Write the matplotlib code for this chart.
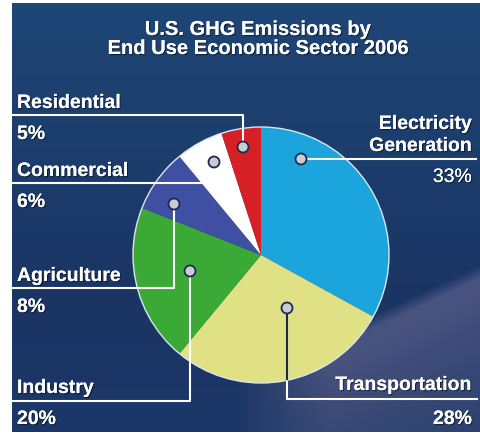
import numpy as np
import matplotlib
matplotlib.use("Agg")
import matplotlib.pyplot as plt
import matplotlib.patheffects as pe
from matplotlib.patches import Circle

# US GHG emissions by end use sector, 2006 (percent)
sectors = ["Electricity\nGeneration", "Transportation", "Industry", "Agriculture", "Commercial", "Residential"]
shares = [33, 28, 20, 8, 6, 5]
colors = ["#1ba5dc", "#e0e184", "#3ba935", "#3f50a3", "#ffffff", "#d71f26"]

W, H = 481, 435
fig = plt.figure(figsize=(W / 100, H / 100), dpi=100)
ax = fig.add_axes([0, 0, 1, 1])

# background: navy gradient with a soft light streak at lower right
yy, xx = np.mgrid[0:H, 0:W].astype(float)
top = np.array([30, 70, 118]) / 255
mid = np.array([26, 53, 100]) / 255
bot = np.array([28, 56, 104]) / 255
t = np.clip(yy / 300, 0, 1)[..., None]
bg = top * (1 - t) + mid * t
t2 = np.clip((yy - 300) / 135, 0, 1)[..., None]
bg = bg * (1 - t2) + bot * t2
# streak: sharp upper edge along a diagonal, fading downwards and to the left
p0 = np.array([370.0, 317.0])
d = np.array([481.0, 265.0]) - p0
d /= np.hypot(*d)
nrm = np.array([-d[1], d[0]])
if nrm[1] < 0:
    nrm = -nrm
dist = (xx - p0[0]) * nrm[0] + (yy - p0[1]) * nrm[1]
w = np.clip(dist / 12, 0, 1) * np.exp(-np.clip(dist - 30, 0, None) / 130)
w *= np.clip((xx - 240) / 90, 0, 1)
beam = np.array([72, 82, 126]) / 255
bg = bg * (1 - w[..., None]) + beam * w[..., None]
img = np.ones((H, W, 3))
img[4:433, 12:W] = bg[4:433, 12:W]
ax.imshow(img, extent=(0, W, H, 0), zorder=0, interpolation="bilinear")

cx, cy, r = 261, 256, 128
wedges, _ = ax.pie(shares, colors=colors, startangle=-90, counterclock=True,
                   center=(cx, cy), radius=r, wedgeprops=dict(linewidth=0))
for wd in wedges:
    wd.set_zorder(2)
outline = Circle((cx, cy), r, fill=False, ec="#dbe5ee", lw=1, zorder=3)
ax.add_patch(outline)

shadow = [pe.withSimplePatchShadow(offset=(0.8, -0.8), shadow_rgbFace="black", alpha=0.5), pe.Normal()]
lw = 1.5

def dot(x, y):
    ax.add_patch(Circle((x, y), 5.5, fc="#cbcbd4", ec="#1b2a52", lw=1.3, zorder=6))

def lbl(x, y, s, ha="left", weight="bold", size=14):
    ax.text(x, y, s, color="white", fontsize=size, fontweight=weight, ha=ha, va="baseline",
            family="Liberation Sans", path_effects=shadow, zorder=7)

pct = [f"{v}%" for v in shares]

# left side leaders
left = [  # label index, label baseline, line y, dot x, dot y
    (5, 109, 116, 243, 148),
    (4, 177, 184, 214, 163),
    (3, 282, 289, 174, 205),
    (2, 394, 402, 190, 272),
]
for i, yb, yl, dx, dy in left:
    ax.plot([12, dx, dx], [yl, yl, dy], color="white", lw=lw, zorder=5, solid_capstyle="butt")
    dot(dx, dy)
    lbl(17, yb, sectors[i])
    lbl(17, yb + 31, pct[i])

# electricity generation
ax.plot([301, 476], [160, 160], color="white", lw=lw, zorder=5)
dot(301, 160)
lbl(472, 130, "Electricity", ha="right")
lbl(472, 152, "Generation", ha="right")
lbl(472, 183, pct[0], ha="right", weight="normal")

# transportation: dark where it crosses the pale wedge
ax.plot([287, 287, 477], [309, 400, 400], color="white", lw=lw, zorder=5)
inner, = ax.plot([287, 287], [309, 400], color="#1b2a52", lw=lw, zorder=5)
inner.set_clip_path(Circle((cx, cy), r, transform=ax.transData))
dot(287, 309)
lbl(472, 391, sectors[1], ha="right")
lbl(472, 425, pct[1], ha="right")

lbl(258, 36, "U.S. GHG Emissions by", ha="center", size=14.5)
lbl(258, 55, "End Use Economic Sector 2006", ha="center", size=14.5)

ax.set_xlim(0, W)
ax.set_ylim(H, 0)
ax.set_aspect("auto")
ax.axis("off")

fig.savefig("out.png", dpi=100)
